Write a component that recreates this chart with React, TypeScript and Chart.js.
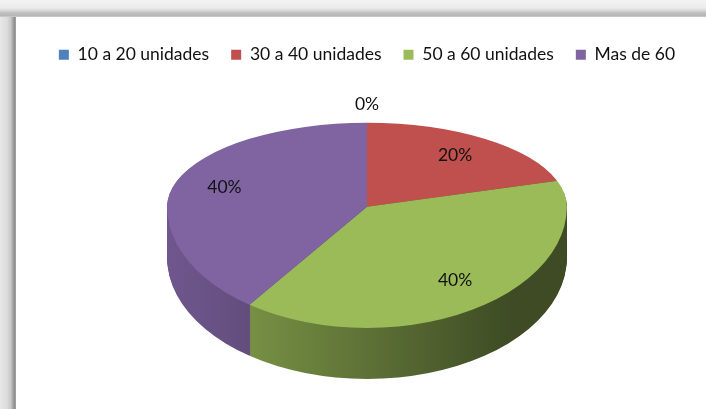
import React, { useEffect, useRef } from "react";
import { Chart, ArcElement, PieController, Legend } from "chart.js";

Chart.register(PieController, ArcElement, Legend);

// ---- data ----
const categories = ["10 a 20 unidades", "30 a 40 unidades", "50 a 60 unidades", "Mas de 60"];
const percentages = [0, 20, 40, 40];
const sliceColors = ["#4F81BD", "#C0504D", "#9BBB59", "#8064A2"];

// ---- look ----
const FONT = "Lato, 'Open Sans', sans-serif";
const FONT_SIZE = 17.5;
const TEXT_COLOR = "#111111";
const STRETCH_X = 1.5; // horizontal stretch of the pie disc
const TILT_FAR = 0.63; // vertical squash of the far half
const TILT_NEAR = 0.91; // vertical squash of the near half (perspective)
const DEPTH = 0.38; // thickness of the disc, relative to radius
const LABEL_R = 0.75;
const ZERO_LABEL_R = 1.22;

function shade(hex: string, f: number): string {
  const n = parseInt(hex.slice(1), 16);
  const r = Math.round(((n >> 16) & 255) * f);
  const g = Math.round(((n >> 8) & 255) * f);
  const b = Math.round((n & 255) * f);
  return `rgb(${r},${g},${b})`;
}

const pie3d = {
  id: "pie3d",
  beforeDatasetsDraw(chart: any) {
    const ctx: CanvasRenderingContext2D = chart.ctx;
    const arcs = chart.getDatasetMeta(0).data as any[];
    if (!arcs.length) return false;
    const cx = arcs[0].x;
    const cy = arcs[0].y;
    const r = arcs[0].outerRadius;
    const W = chart.width;
    const H = chart.height;
    const depth = Math.round(DEPTH * r);

    const drawHalf = (half: number, dy: number, paint: () => void) => {
      ctx.save();
      ctx.beginPath();
      const split = Math.round(cy + dy);
      if (half === 0) ctx.rect(0, 0, W, split);
      else ctx.rect(0, split, W, H - split);
      ctx.clip();
      ctx.translate(cx, cy + dy);
      ctx.scale(STRETCH_X, half === 0 ? TILT_FAR : TILT_NEAR);
      ctx.translate(-cx, -cy);
      paint();
      ctx.restore();
    };

    const sideFills = arcs.map((_a: any, i: number) => {
      const g = ctx.createLinearGradient(cx - r, 0, cx + r, 0);
      const c = sliceColors[i];
      g.addColorStop(0, shade(c, 0.87));
      g.addColorStop(0.17, shade(c, 0.79));
      g.addColorStop(0.86, shade(c, 0.4));
      g.addColorStop(1, shade(c, 0.4));
      return g;
    });

    const paintArcs = (fills: any[] | null) => () => {
      arcs.forEach((arc: any, i: number) => {
        if (Math.abs(arc.endAngle - arc.startAngle) < 1e-6) return;
        const orig = arc.options;
        if (fills) {
          const o = Object.create(orig);
          o.backgroundColor = fills[i];
          o.borderWidth = 0;
          arc.options = o;
        }
        arc.draw(ctx);
        arc.options = orig;
      });
    };

    // side walls (stacked layers)
    for (let d = depth; d >= 1; d--) {
      drawHalf(0, d, paintArcs(sideFills));
      drawHalf(1, d, paintArcs(sideFills));
    }
    // top face
    drawHalf(0, 0, paintArcs(null));
    drawHalf(1, 0, paintArcs(null));

    // percentage labels
    const data = chart.data.datasets[0].data as number[];
    const total = data.reduce((s, v) => s + v, 0);
    ctx.save();
    ctx.font = `${FONT_SIZE}px ${FONT}`;
    ctx.fillStyle = TEXT_COLOR;
    ctx.textAlign = "center";
    ctx.textBaseline = "middle";
    arcs.forEach((arc: any, i: number) => {
      const mid = (arc.startAngle + arc.endAngle) / 2;
      const zero = data[i] === 0;
      const f = zero ? ZERO_LABEL_R : LABEL_R;
      const sx = Math.cos(mid) * f * r * STRETCH_X;
      const syRaw = Math.sin(mid) * f * r;
      const sy = syRaw * (syRaw < 0 ? TILT_FAR : TILT_NEAR);
      const pct = Math.round((data[i] / total) * 100);
      ctx.fillText(`${pct}%`, cx + sx, cy + sy);
    });
    ctx.restore();
    return false;
  },
};

export default function App() {
  const ref = useRef<HTMLCanvasElement | null>(null);
  useEffect(() => {
    if (!ref.current) return;
    const chart = new Chart(ref.current, {
      type: "pie",
      data: {
        labels: categories,
        datasets: [
          {
            data: percentages,
            backgroundColor: sliceColors,
            borderWidth: 0,
          },
        ],
      },
      options: {
        responsive: false,
        animation: false,
        devicePixelRatio: 1,
        events: [],
        layout: { padding: { top: 24, left: 28, right: 0, bottom: 69 } },
        plugins: {
          legend: {
            position: "top",
            labels: {
              boxWidth: 10,
              boxHeight: 10,
              padding: 22,
              color: TEXT_COLOR,
              font: { family: FONT, size: FONT_SIZE },
            },
          },
          tooltip: { enabled: false },
        },
      },
      plugins: [pie3d],
    } as any);
    return () => chart.destroy();
  }, []);

  return (
    <div
      style={{
        position: "fixed",
        left: 0,
        top: 0,
        width: 706,
        height: 409,
        background: "#ffffff",
        overflow: "hidden",
      }}
    >
      <canvas ref={ref} width={706} height={409} style={{ position: "absolute", left: 0, top: 0 }} />
      <div
        style={{
          position: "absolute",
          left: 0,
          top: 0,
          width: 706,
          height: 17,
          background:
            "linear-gradient(to bottom, #f3f3f3 0px, #ebebeb 8px, #d4d4d4 11px, #bdbdbd 13px, #b6b6b6 16px, #d6d6d6 17px)",
        }}
      />
      <div
        style={{
          position: "absolute",
          left: 0,
          top: 17,
          width: 16,
          height: 392,
          background:
            "linear-gradient(to right, #e8e8e8 0px, #dcdcdc 7px, #c6c6c6 11px, #a2a2a2 13px, #8a8a8a 15px, #b0b0b0 16px)",
        }}
      />
    </div>
  );
}
